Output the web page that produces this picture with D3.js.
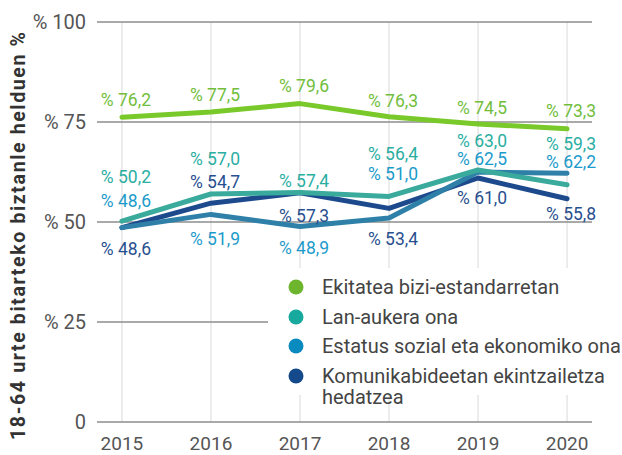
<!DOCTYPE html>
<html>
<head>
<meta charset="utf-8">
<script src="https://cdn.jsdelivr.net/npm/d3@7"></script>
<style>
  body { margin: 0; background: #fff; }
  svg { display: block; font-family: Roboto, "Noto Sans", sans-serif; }
</style>
</head>
<body>
<div id="chart"></div>
<script>
const years = [2015, 2016, 2017, 2018, 2019, 2020];
const yTicks = [0, 25, 50, 75, 100];

const seriesNames = [
  "Ekitatea bizi-estandarretan",
  "Lan-aukera ona",
  "Estatus sozial eta ekonomiko ona",
  "Komunikabideetan ekintzailetza hedatzea"
];

const ekitatea = [76.2, 77.5, 79.6, 76.3, 74.5, 73.3];
const lanAukera = [50.2, 57.0, 57.4, 56.4, 63.0, 59.3];
const estatus = [48.6, 51.9, 48.9, 51.0, 62.5, 62.2];
const komunikabide = [48.6, 54.7, 57.3, 53.4, 61.0, 55.8];

// label offsets from the point (px), picked by hand like the original
const labelDy = [
  [-11, -11, -12, -10, -10, -12],
  [-38, -29, -5, -36, -23, -35],
  [-21, 31, 28, -38, -7, -5],
  [27, -15, 29, 37, 26, 21]
];

const lineColors = ["#7ac92b", "#3aaa9d", "#2e80a8", "#1d4a8c"];
const textColors = ["#72be3c", "#2aaea2", "#1c9bcb", "#28508f"];
const dotColors = ["#6cb52d", "#17a89e", "#0a8bbf", "#144a8c"];

const width = 622, height = 455;

const svg = d3.select("#chart")
  .append("svg")
  .attr("width", width)
  .attr("height", height);

const x = d3.scalePoint()
  .domain(years)
  .range([97, 592])
  .padding(0.28);

const y = d3.scaleLinear()
  .domain([0, 100])
  .range([422, 22]);

// vertical grid
svg.append("g")
  .selectAll("line")
  .data(years)
  .enter()
  .append("line")
  .attr("x1", d => x(d))
  .attr("x2", d => x(d))
  .attr("y1", y(100))
  .attr("y2", y(0))
  .attr("stroke", "#e6e6e6")
  .attr("stroke-width", 1.5);

// horizontal grid
svg.append("g")
  .selectAll("line")
  .data(yTicks)
  .enter()
  .append("line")
  .attr("x1", 97)
  .attr("x2", 592)
  .attr("y1", d => y(d))
  .attr("y2", d => y(d))
  .attr("stroke", "#8c8c8c")
  .attr("stroke-width", 1.5);

// y tick labels
svg.append("g")
  .selectAll("text")
  .data(yTicks)
  .enter()
  .append("text")
  .attr("x", 86)
  .attr("y", d => y(d))
  .attr("dy", "0.36em")
  .attr("text-anchor", "end")
  .attr("fill", "#555")
  .style("font-size", "20px")
  .text(d => d === 0 ? "0" : "% " + d);

// x tick labels
svg.append("g")
  .selectAll("text")
  .data(years)
  .enter()
  .append("text")
  .attr("x", d => x(d))
  .attr("y", 450)
  .attr("text-anchor", "middle")
  .attr("fill", "#555")
  .style("font-size", "19px")
  .text(d => d);

// y axis title (stretched to the original's length)
svg.append("text")
  .attr("transform", "translate(25," + 236 + ") rotate(-90)")
  .attr("text-anchor", "middle")
  .attr("fill", "#333")
  .attr("textLength", 408)
  .attr("lengthAdjust", "spacing")
  .style("font-size", "19.5px")
  .style("font-weight", "bold")
  .text("18-64 urte bitarteko biztanle helduen %");

// legend background hides the grid behind it
svg.append("rect")
  .attr("x", 268)
  .attr("y", 268)
  .attr("width", width - 268)
  .attr("height", 127)
  .attr("fill", "#fff");

const allSeries = [ekitatea, lanAukera, estatus, komunikabide];

const line = d3.line()
  .x((d, i) => x(years[i]))
  .y(d => y(d));

// draw order: dark blue first, green last
const drawOrder = [3, 2, 1, 0];
svg.append("g")
  .selectAll("path")
  .data(drawOrder)
  .enter()
  .append("path")
  .attr("d", k => line(allSeries[k]))
  .attr("fill", "none")
  .attr("stroke", k => lineColors[k])
  .attr("stroke-width", 5)
  .attr("stroke-linecap", "round")
  .attr("stroke-linejoin", "round");

const fmt = v => "% " + d3.format(".1f")(v).replace(".", ",");

allSeries.forEach((vals, k) => {
  svg.append("g")
    .selectAll("text")
    .data(vals)
    .enter()
    .append("text")
    .attr("x", (d, i) => x(years[i]) + 4)
    .attr("y", (d, i) => y(d) + labelDy[k][i])
    .attr("text-anchor", "middle")
    .attr("fill", textColors[k])
    .style("font-size", "17.5px")
    .text(d => fmt(d));
});

// legend
const legend = svg.append("g");
const legendRows = [287, 317, 346, 376];
seriesNames.forEach((name, k) => {
  legend.append("circle")
    .attr("cx", 296)
    .attr("cy", legendRows[k])
    .attr("r", 7.5)
    .attr("fill", dotColors[k]);
  const t = legend.append("text")
    .attr("x", 322)
    .attr("y", legendRows[k])
    .attr("dy", "0.36em")
    .attr("fill", "#444")
    .style("font-size", "20px");
  if (k === 3) {
    t.append("tspan").attr("x", 322).text("Komunikabideetan ekintzailetza");
    t.append("tspan").attr("x", 322).attr("dy", "1.05em").text("hedatzea");
  } else {
    t.text(name);
  }
});
</script>
</body>
</html>
